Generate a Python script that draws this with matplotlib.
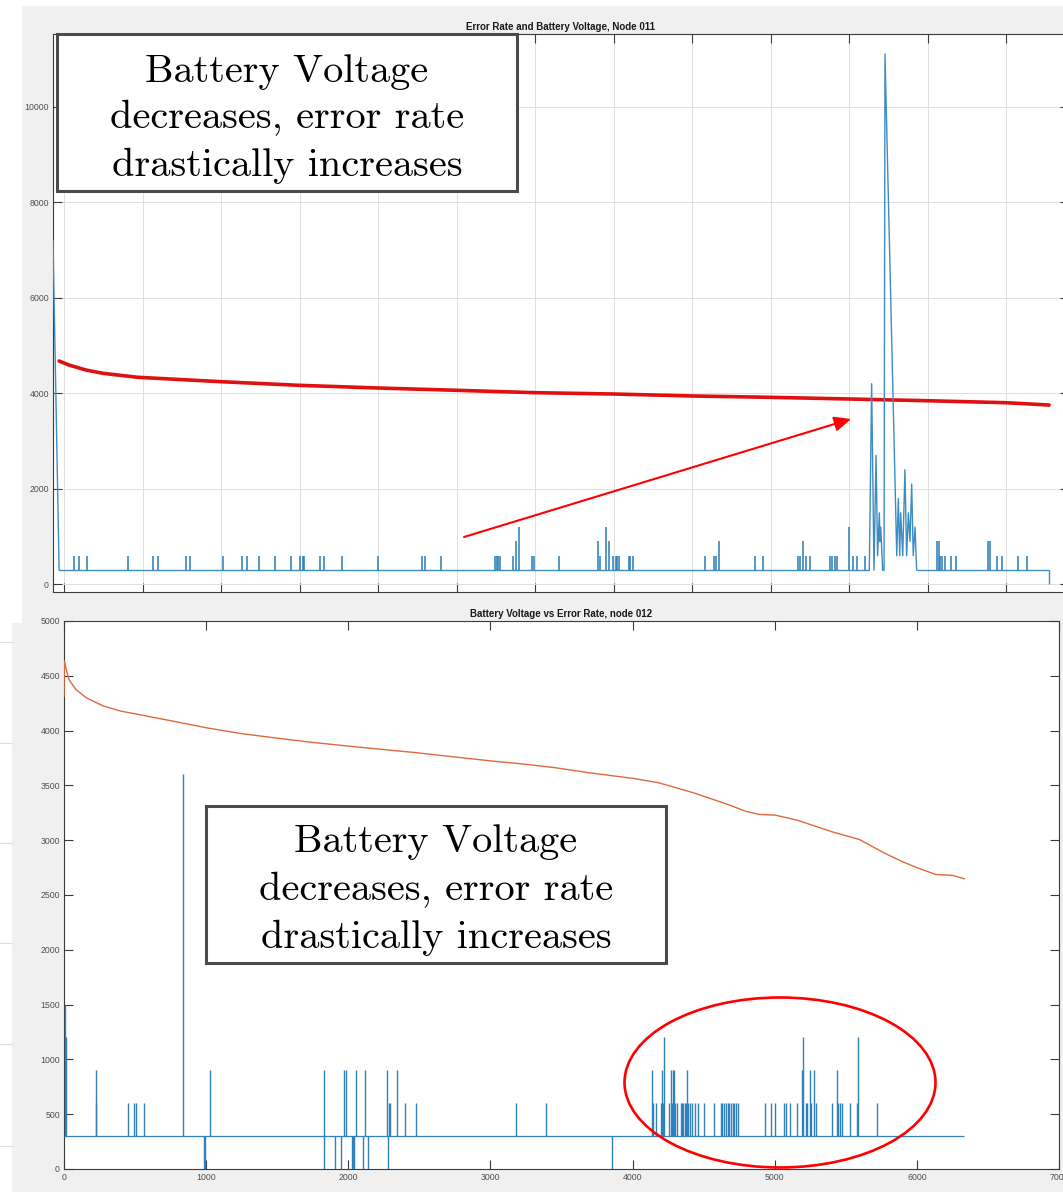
import matplotlib
matplotlib.use('Agg')
import matplotlib.pyplot as plt
from matplotlib.patches import Rectangle, Ellipse, FancyArrowPatch
from matplotlib.transforms import Affine2D
from matplotlib.lines import Line2D

# ---------------- data: top panel (Node 011) ----------------
top_title = "Error Rate and Battery Voltage, Node 011"
top_yticks = [0, 2000, 4000, 6000, 8000, 10000]
top_xticks = [0, 500, 1000, 1500, 2000, 2500, 3000, 3500, 4000, 4500, 5000, 5500, 6000]

top_head_x = [-72, -33]
top_head_y = [7200, 300]
top_base = 300
top_end_x = 6272

top_spike_x = [64, 92, 143, 406, 567, 595, 773, 801, 1013, 1130, 1162, 1242, 1344,
               1444, 1500, 1518, 1527, 1629, 1654, 1767, 2000, 2276, 2297, 2397,
               2743, 2754, 2764, 2775, 2856, 2877, 2894, 2977, 2993, 3149, 3397,
               3412, 3448, 3467, 3497, 3514, 3522, 3531, 3595, 3605, 3624, 4081,
               4138, 4149, 4170, 4399, 4452, 4675, 4686, 4705, 4722, 4750, 4877,
               4891, 4909, 4923, 5000, 5022, 5047, 5102, 5556, 5569, 5577, 5590,
               5609, 5647, 5677, 5885, 5896, 5938, 5974, 6076, 6130]
top_spike_y = [600, 600, 600, 600, 600, 600, 600, 600, 600, 600, 600, 600, 600,
               600, 600, 600, 600, 600, 600, 600, 600, 600, 600, 600,
               600, 600, 600, 600, 600, 900, 1200, 600, 600, 600, 900,
               600, 1200, 900, 600, 600, 600, 600, 600, 600, 600, 600,
               600, 600, 900, 600, 600, 600, 600, 900, 600, 600, 600,
               600, 600, 600, 1200, 600, 600, 600, 900, 900, 600, 600,
               600, 600, 600, 900, 900, 600, 600, 600, 600]

top_burst_x = [5127, 5142, 5157, 5170, 5180, 5191, 5195, 5200, 5212, 5221, 5227,
               5302, 5312, 5321, 5327, 5340, 5354, 5365, 5376, 5386, 5397, 5407,
               5418, 5429]
top_burst_y = [300, 4200, 300, 2700, 600, 1500, 900, 1200, 300, 300, 11100,
               600, 1800, 600, 1500, 600, 2400, 600, 1500, 900, 2100, 600,
               1200, 300]

top_volt_x = [-33, 29, 138, 247, 467, 998, 1495, 1998, 2495, 2998, 3501, 3998,
              4495, 4998, 5494, 5998, 6272]
top_volt_y = [4676, 4592, 4487, 4418, 4335, 4243, 4167, 4111, 4063, 4013, 3985,
              3944, 3916, 3881, 3845, 3803, 3755]

# ---------------- data: bottom panel (node 012) ----------------
bot_title = "Battery Voltage vs Error Rate, node 012"
bot_xticks = [0, 1000, 2000, 3000, 4000, 5000, 6000, 7000]
bot_yticks = [0, 500, 1000, 1500, 2000, 2500, 3000, 3500, 4000, 4500, 5000]

bot_base = 300
bot_end_x = 6334
bot_up_x = [8, 15, 222, 228, 450, 491, 510, 564, 838, 1030, 1830, 1971, 1985,
            2051, 2117, 2270, 2284, 2294, 2345, 2401, 2476, 3178, 3393,
            4137, 4141, 4168, 4198, 4205, 4212, 4220, 4258, 4271, 4278, 4285,
            4293, 4302, 4315, 4339, 4346, 4356, 4366, 4375, 4385, 4393, 4405,
            4417, 4437, 4459, 4500, 4576, 4620, 4632, 4644, 4656, 4668, 4680,
            4693, 4705, 4717, 4727, 4739, 4932, 4973, 5000, 5066, 5078, 5110,
            5156, 5193, 5202, 5217, 5229, 5246, 5256, 5278, 5288, 5405, 5439,
            5446, 5459, 5471, 5529, 5576, 5588, 5717]
bot_up_y = [1500, 1200, 600, 900, 600, 600, 600, 600, 3600, 900, 900, 900, 900,
            900, 900, 900, 600, 600, 900, 600, 600, 600, 600,
            900, 600, 600, 600, 900, 600, 1200, 600, 900, 600, 900,
            900, 600, 600, 600, 600, 600, 600, 600, 900, 600, 600,
            600, 600, 600, 600, 600, 600, 600, 600, 600, 600, 600,
            600, 600, 600, 600, 600, 600, 600, 600, 600, 600, 600,
            600, 900, 1200, 600, 600, 900, 600, 900, 600, 600, 900,
            600, 600, 600, 600, 600, 1200, 600]
bot_dip_x = [984, 994, 1830, 1908, 1949, 2029, 2034, 2039, 2102, 2141, 2277, 3854]

bot_volt_x = [0, 3, 10, 34, 83, 156, 277, 399, 521, 764, 1000, 1251, 1494, 1737,
              2005, 2224, 2467, 2710, 3012, 3209, 3452, 3696, 4004, 4184,
              4427, 4671, 4793, 4891, 5002, 5158, 5402, 5595, 5768, 5890, 6003,
              6133, 6255, 6334]
bot_volt_y = [4315, 4635, 4589, 4467, 4376, 4300, 4224, 4178, 4148, 4087, 4026,
              3972, 3932, 3894, 3858, 3830, 3800, 3765, 3722, 3698, 3662,
              3615, 3564, 3524, 3433, 3326, 3265, 3235, 3229, 3183, 3077, 3007,
              2885, 2809, 2748, 2687, 2678, 2648]

note_lines = ["Battery Voltage", "decreases, error rate", "drastically increases"]

# ---------------- figure ----------------
W, H = 1063, 1192
fig = plt.figure(figsize=(W / 100, H / 100), dpi=100)
fig.patch.set_facecolor('white')
PX = Affine2D().scale(1 / W, -1 / H).translate(0, 1) + fig.transFigure
GRAY = '#f0f0f0'


def frect(x0, y0, x1, y1, z=-5, **kw):
    r = Rectangle((x0, y0), x1 - x0, y1 - y0, transform=PX, zorder=z, **kw)
    fig.add_artist(r)
    return r


# window backgrounds
frect(22, 6, W, 600, facecolor=GRAY, edgecolor='none')
frect(12, 600, W, H, facecolor=GRAY, edgecolor='none')
frect(0, 600, 22, 623, facecolor='white', edgecolor='none')
frect(0, 642, 12, H, facecolor='white', edgecolor='none')
for yy in [642, 743, 843, 943, 1044, 1146]:
    fig.add_artist(Line2D([0, 12], [yy, yy], transform=PX, color='#dddddd',
                          lw=0.8, zorder=-4))


def add_axes_px(l, t, r, b):
    return fig.add_axes([l / W, 1 - b / H, (r - l) / W, (b - t) / H])


def style(ax):
    for s in ax.spines.values():
        s.set_color('#3a3a3a')
        s.set_linewidth(0.8)
    ax.tick_params(direction='in', length=6.5, width=0.8, colors='#3a3a3a',
                   labelcolor='#505050', labelsize=6.3, top=True, right=True,
                   pad=3)
    for lab in ax.get_xticklabels() + ax.get_yticklabels():
        lab.set_fontfamily('Liberation Sans')


# ---------- top axes ----------
ax1 = add_axes_px(53, 34, 1069, 592)
ax1.set_xlim(-72, 6399)
ax1.set_ylim(-157, 11517)
ax1.set_xticks(top_xticks)
ax1.set_yticks(top_yticks)
ax1.set_yticklabels([str(v) for v in top_yticks])
ax1.tick_params(labelbottom=False)
ax1.grid(True, color='#dedede', lw=0.7)
ax1.set_axisbelow(True)
style(ax1)
ax1.set_title(top_title, fontsize=7, fontweight='bold', pad=3,
              fontfamily='Liberation Sans', color='#1a1a1a')

ax1.plot(top_volt_x, top_volt_y, color='#e01010', lw=2.6, zorder=2,
         solid_capstyle='round')
blue1 = '#3d8cc4'
ax1.plot(top_head_x, top_head_y, color=blue1, lw=1.0, zorder=3)
ax1.hlines(top_base, top_head_x[-1], top_burst_x[0], color=blue1, lw=1.0, zorder=3)
ax1.hlines(top_base, top_burst_x[-1], top_end_x, color=blue1, lw=1.0, zorder=3)
ax1.vlines(top_end_x, 0, top_base, color=blue1, lw=1.0, zorder=3)
ax1.vlines(top_spike_x, top_base, top_spike_y, color='#2a7ab8', lw=1.1, zorder=3)
ax1.plot(top_burst_x, top_burst_y, color=blue1, lw=1.0, zorder=3)

# ---------- bottom axes ----------
ax2 = add_axes_px(64, 621, 1059, 1169)
ax2.set_xlim(0, 7000)
ax2.set_ylim(0, 5000)
ax2.set_xticks(bot_xticks)
ax2.set_xticklabels([str(v) for v in bot_xticks])
ax2.set_yticks(bot_yticks)
ax2.set_yticklabels([str(v) for v in bot_yticks])
style(ax2)
ax2.set_title(bot_title, fontsize=7, fontweight='bold', pad=3,
              fontfamily='Liberation Sans', color='#1a1a1a')

blue2 = '#2f80bd'
ax2.hlines(bot_base, 0, bot_end_x, color=blue2, lw=0.9, zorder=3)
ax2.vlines(bot_up_x, bot_base, bot_up_y, color=blue2, lw=1.0, zorder=3)
ax2.vlines(bot_dip_x, 0, bot_base, color=blue2, lw=1.0, zorder=3)
ax2.plot(bot_volt_x, bot_volt_y, color='#dc6a3c', lw=1.0, zorder=4)

# ---------- annotations ----------
def note_box(x0, y0, x1, y1, cx, baselines):
    frect(x0, y0, x1, y1, z=6, facecolor='white', edgecolor='#4a4a4a', lw=2.2)
    for txt, yb in zip(note_lines, baselines):
        fig.text(cx / W, 1 - yb / H, txt, fontfamily='cmr10', fontsize=29,
                 ha='center', va='baseline', color='black', zorder=7)


note_box(57, 34, 517, 191, 287, [81.7, 128.3, 175.7])
note_box(206, 806, 666, 963, 436, [852, 900, 948])

arrow = FancyArrowPatch(posA=(464, 537), posB=(851, 419), transform=PX,
                        arrowstyle='-|>,head_length=1.0,head_width=0.45',
                        mutation_scale=10, color='#ff0000', lw=1.5,
                        shrinkA=0, shrinkB=0, zorder=8)
fig.add_artist(arrow)

ell = Ellipse((780, 1082.5), 311, 170, transform=PX, fill=False,
              edgecolor='#ff0000', lw=1.9, zorder=8)
fig.add_artist(ell)

fig.savefig('out.png', dpi=100)
